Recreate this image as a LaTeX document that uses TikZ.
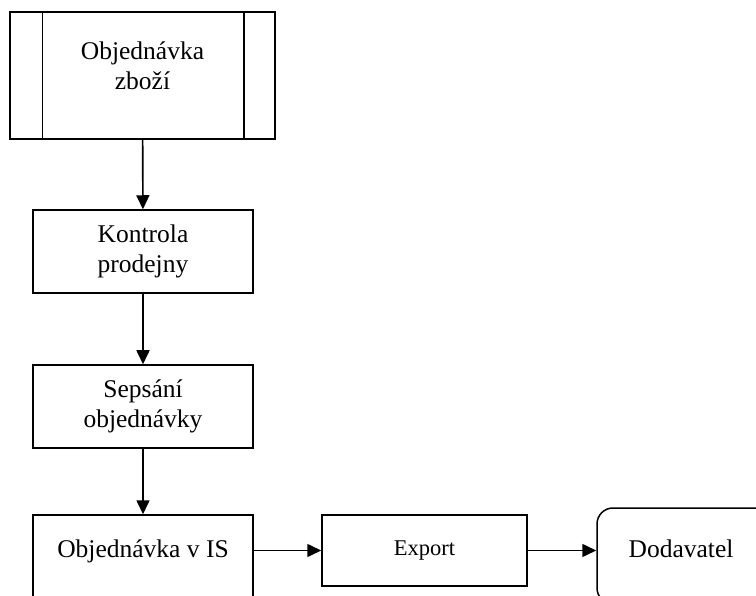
\documentclass[tikz,border=0pt]{standalone}
\usepackage{fontspec}
\setmainfont{Liberation Serif}
\usetikzlibrary{arrows.meta}
\begin{document}
\begin{tikzpicture}[x=1pt,y=-1pt,
  box/.style={draw, line width=1.5pt, minimum width=#1, inner sep=0pt},
  box/.default=220pt,
  txt/.style={align=center, inner sep=0pt, font=\fontsize{25.5}{29.5}\selectfont},
  smalltxt/.style={align=center, inner sep=0pt, font=\fontsize{22.5}{27}\selectfont},
  arr/.style={-{Triangle[length=14pt,width=13pt]}, line width=1.6pt}]
\useasboundingbox (0,0) rectangle (756,596);
\clip (0,0) rectangle (756,596);

% predefined process: order of goods
\node[box=265pt, minimum height=127pt] (order) at (142.5,75.5) {};
\draw[line width=1.5pt] ([xshift=33pt]order.north west) -- ([xshift=33pt]order.south west);
\draw[line width=1.5pt] ([xshift=-32pt]order.north east) -- ([xshift=-32pt]order.south east);
\node[txt] (orderlabel) at (142.5,66) {Objednávka\\zboží};

% process steps
\node[box, minimum height=83pt, txt] (check) at (143,251.5) {Kontrola\\prodejny};
\node[box, minimum height=83pt, txt] (write) at (143,406.5) {Sepsání\\objednávky};
\node[box, minimum height=85pt] (is) at (143,557.5) {};
\node[txt] (islabel) at (143,551) {Objednávka v IS};
\node[box=205pt, minimum height=71pt, smalltxt] (export) at (424.5,550.5) {Export};

% terminal: supplier
\node[draw, line width=1.5pt, rounded corners=16pt, minimum width=180pt,
      minimum height=96pt, inner sep=0pt] (supplier) at (687,556) {};
\node[txt] (supplierlabel) at (681,549) {Dodavatel};

% connectors
\draw[arr] (order) -- (check);
\draw[arr] (check) -- (write);
\draw[arr] (write) -- (is);
\draw[arr] (export.west -| is.east) -- (export.west);
\draw[arr] (export.east) -- (supplier.west |- export.east);
\end{tikzpicture}
\end{document}
